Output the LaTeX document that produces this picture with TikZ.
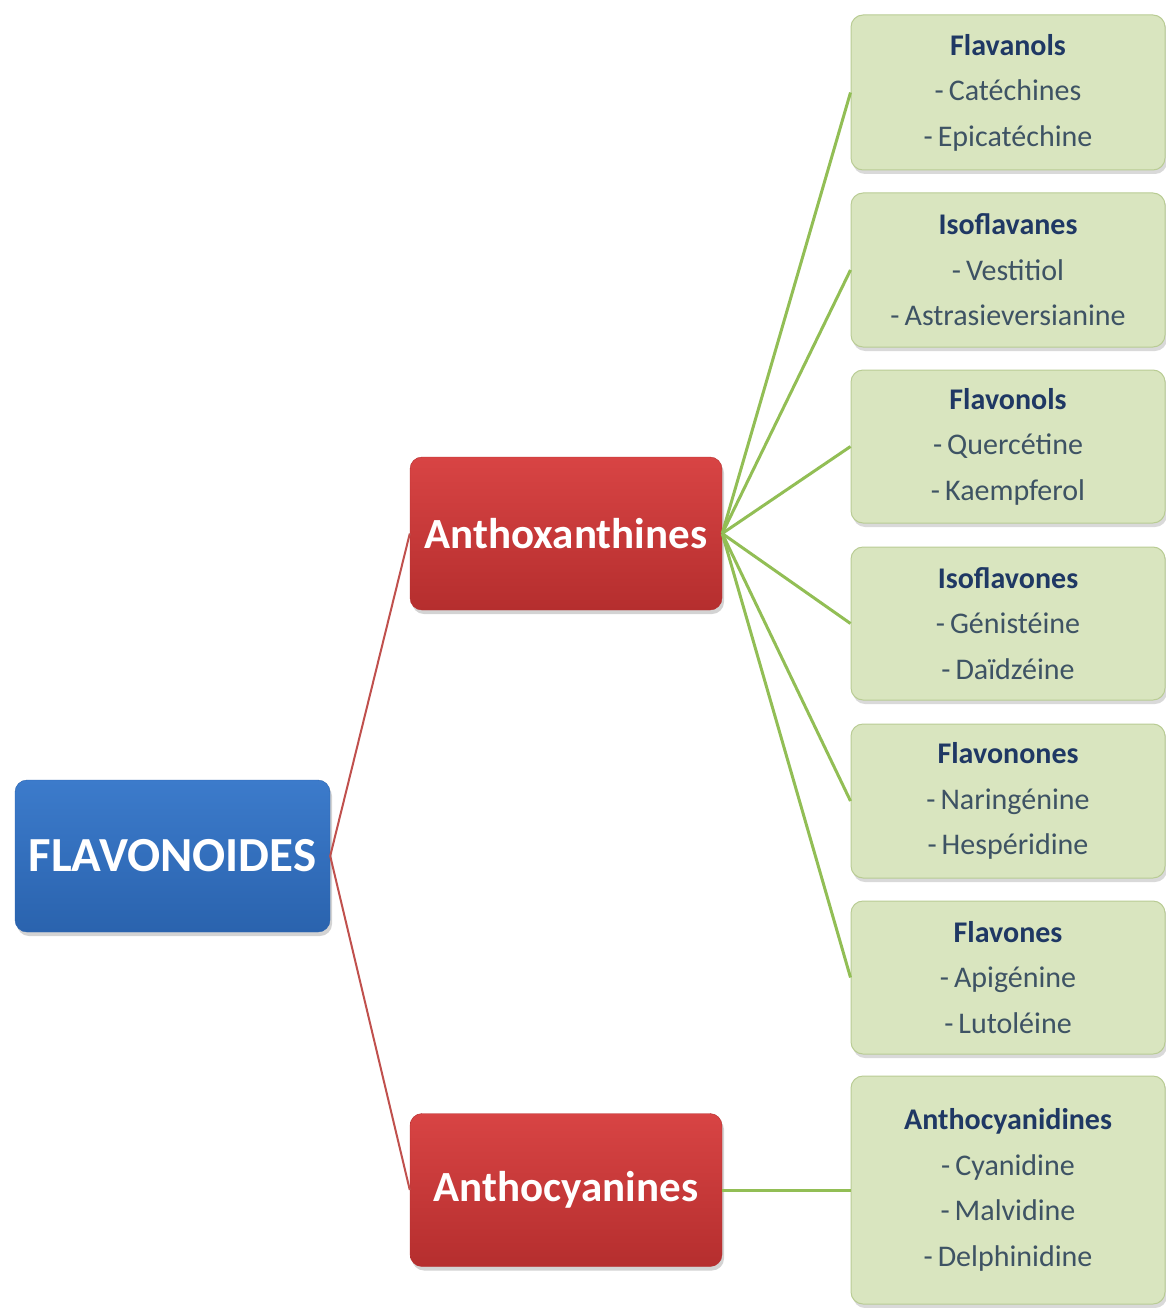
\documentclass[tikz,border=0pt]{standalone}
\usepackage{fontspec}
\setmainfont{Carlito}
\usetikzlibrary{shadows}
\definecolor{rootblue}{HTML}{3C7BCB}
\definecolor{rootbluedark}{HTML}{2A63AE}
\definecolor{famred}{HTML}{D84444}
\definecolor{famreddark}{HTML}{B52E2E}
\definecolor{leafgreen}{HTML}{D9E5BF}
\definecolor{leafedge}{HTML}{B9CC94}
\definecolor{linkred}{HTML}{C0504D}
\definecolor{linkgreen}{HTML}{92BE55}
\definecolor{titlenavy}{HTML}{1F3864}
\definecolor{itemgray}{HTML}{3E5364}
\tikzset{
	root/.style={rounded corners=12pt,minimum width=315pt,minimum height=152pt,
		top color=rootblue,bottom color=rootbluedark,draw=rootbluedark,
		text=white,font=\fontsize{49}{52}\selectfont\bfseries,
		drop shadow={shadow xshift=2pt,shadow yshift=-4pt,opacity=0.35}},
	fam/.style={rounded corners=12pt,minimum width=312pt,minimum height=153pt,
		top color=famred,bottom color=famreddark,draw=famreddark,
		text=white,font=\fontsize{43}{46}\selectfont\bfseries,
		drop shadow={shadow xshift=2pt,shadow yshift=-4pt,opacity=0.35}},
	leaf/.style 2 args={rounded corners=12pt,minimum width=314pt,minimum height=#1,
		fill=leafgreen,draw=leafedge,line width=1pt,align=center,text=itemgray,
		font=\fontsize{30}{45.5}\selectfont,name=#2,
		drop shadow={shadow xshift=2pt,shadow yshift=-4pt,opacity=0.3}},
	redlink/.style={draw=linkred,line width=2pt},
	greenlink/.style={draw=linkgreen,line width=3pt}
}
\newcommand{\leaftitle}[1]{{\color{titlenavy}\bfseries #1}}

\begin{document}
\begin{tikzpicture}[x=1pt,y=-1pt]
	\useasboundingbox (0,0) rectangle (1166,1308);

	\node [root] (flavo) at (172.5,856) {FLAVONOIDES};

	\node [fam] (anthox) at (566,533.5) {Anthoxanthines};
	\node [fam] (anthoc) at (566,1190) {Anthocyanines};

	\node [leaf={155pt}{flavanols}] at (1008,92.5)
		{\leaftitle{Flavanols}\\-\,Catéchines\\-\,Epicatéchine};
	\node [leaf={154pt}{isoflavanes}] at (1008,270)
		{\leaftitle{Isoflavanes}\\-\,Vestitiol\\-\,Astrasieversianine};
	\node [leaf={153pt}{flavonols}] at (1008,446.5)
		{\leaftitle{Flavonols}\\-\,Quercétine\\-\,Kaempferol};
	\node [leaf={153pt}{isoflavones}] at (1008,623.5)
		{\leaftitle{Isoflavones}\\-\,Génistéine\\-\,Daïdzéine};
	\node [leaf={154pt}{flavanones}] at (1008,801)
		{\leaftitle{Flavonones}\\-\,Naringénine\\-\,Hespéridine};
	\node [leaf={153pt}{flavones}] at (1008,977.5)
		{\leaftitle{Flavones}\\-\,Apigénine\\-\,Lutoléine};
	\node [leaf={228pt}{anthocyanidines}] at (1008,1190)
		{\leaftitle{Anthocyanidines}\\-\,Cyanidine\\-\,Malvidine\\-\,Delphinidine};

	\draw [redlink] (flavo.east) -- (anthox.west);
	\draw [redlink] (flavo.east) -- (anthoc.west);

	\draw [greenlink] (anthox.east) -- (flavanols.west);
	\draw [greenlink] (anthox.east) -- (isoflavanes.west);
	\draw [greenlink] (anthox.east) -- (flavonols.west);
	\draw [greenlink] (anthox.east) -- (isoflavones.west);
	\draw [greenlink] (anthox.east) -- (flavanones.west);
	\draw [greenlink] (anthox.east) -- (flavones.west);
	\draw [greenlink] (anthoc.east) -- (anthocyanidines.west);
\end{tikzpicture}
\end{document}
